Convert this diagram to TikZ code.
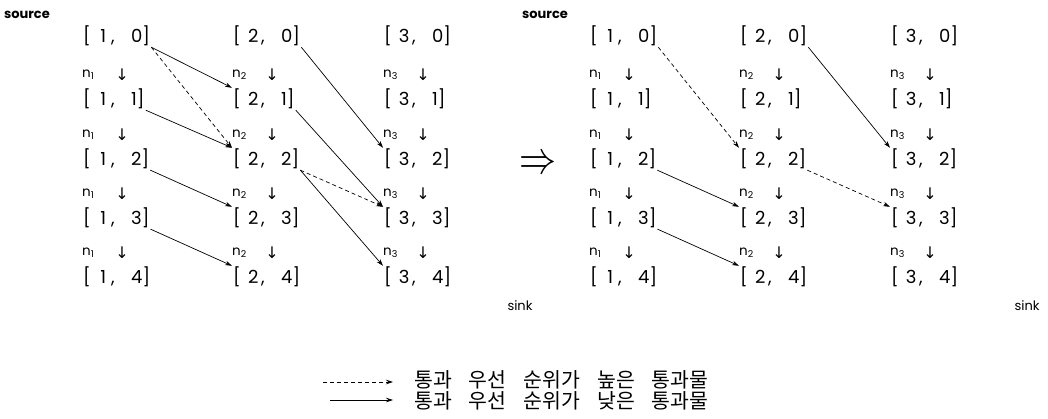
\documentclass[tikz,border=0pt]{standalone}
\usepackage{fontspec}
\usetikzlibrary{arrows.meta}
\newfontfamily\poppins{Poppins}
\newfontfamily\dejavu{DejaVu Sans}
\newfontfamily\kr{Noto Sans CJK KR}
\newcommand\pairlbl[2]{\makebox[12pt][l]{[}\makebox[16pt][c]{#1}\makebox[20pt][l]{,}#2]}
\newcommand\krsp{\hspace{17pt}}
\tikzset{
  cell/.style={anchor=west, inner xsep=1pt, inner ysep=0pt, minimum height=22pt, font=\poppins\fontsize{18}{18}\selectfont},
  nlbl/.style={anchor=west, inner sep=0pt, font=\poppins\fontsize{13.5}{13.5}\selectfont},
  darr/.style={inner sep=0pt, font=\dejavu\fontsize{16}{16}\selectfont},
  lbl/.style={inner sep=0pt, font=\poppins\fontsize{13}{13}\selectfont},
  sol/.style={line width=0.7pt, -{Stealth[length=7pt,width=4.5pt]}},
  dsh/.style={sol, dash pattern=on 4pt off 3pt},
  legtxt/.style={anchor=west, inner sep=0pt, font=\kr\fontsize{20.5}{20.5}\selectfont}
}
\begin{document}
\begin{tikzpicture}[x=1pt,y=-1pt]
\useasboundingbox (0,0) rectangle (1048,419);
\foreach \d/\ox in {L/0, R/507} {
  \foreach \c/\cx in {1/82, 2/232, 3/383} {
    \foreach \r/\ry in {0/36, 1/99, 2/159, 3/218, 4/277} {
      \node[cell] (\d\c\r) at ({\cx+\ox}, \ry) {\pairlbl{\c}{\r}};
    }
    \foreach \r/\ry in {1/75, 2/135, 3/194, 4/253} {
      \node[nlbl] (\d n\c\r) at ({\cx+\ox}, \ry) {n\textsubscript{\c}};
      \node[darr] (\d a\c\r) at ({\cx+\ox+40}, \ry) {↓};
    }
  }
}
% labels
\node[lbl, font=\poppins\bfseries\fontsize{13}{13}\selectfont] (srcL) at (27,15) {source};
\node[lbl, font=\poppins\bfseries\fontsize{13}{13}\selectfont] (srcR) at (545,15) {source};
\node[lbl] (sinkL) at (520,306) {sink};
\node[lbl] (sinkR) at (1027,306) {sink};
\node[inner sep=0pt] (imp) at (538,165) {\scalebox{3.7}[4.6]{$\Rightarrow$}};
% left edges
\draw[sol] (L10.south east) -- (L21.north west);
\draw[dsh] (L10.south east) -- (L22.north west);
\draw[sol] (L11.south east) -- (L22.north west);
\draw[sol] (L20.south east) -- (L32.north west);
\draw[sol] (L21.south east) -- (L33.north west);
\draw[sol] (L12.south east) -- (L23.north west);
\draw[dsh] (L22.south east) -- (L33.north west);
\draw[sol] (L22.south east) -- (L34.north west);
\draw[sol] (L13.south east) -- (L24.north west);
% right edges
\draw[dsh] (R10.south east) -- (R22.north west);
\draw[sol] (R20.south east) -- (R32.north west);
\draw[sol] (R12.south east) -- (R23.north west);
\draw[dsh] (R22.south east) -- (R33.north west);
\draw[sol] (R13.south east) -- (R24.north west);
% legend
\node[legtxt] (t1) at (414,380) {통과\krsp 우선\krsp 순위가\krsp 높은\krsp 통과물};
\node[legtxt] (t2) at (414,401) {통과\krsp 우선\krsp 순위가\krsp 낮은\krsp 통과물};
\coordinate (d1) at (323,382);
\coordinate (d2) at (393,382);
\coordinate (s1) at (330,400);
\coordinate (s2) at (393,400);
\draw[dsh] (d1) -- (d2);
\draw[sol] (s1) -- (s2);
\end{tikzpicture}
\end{document}
